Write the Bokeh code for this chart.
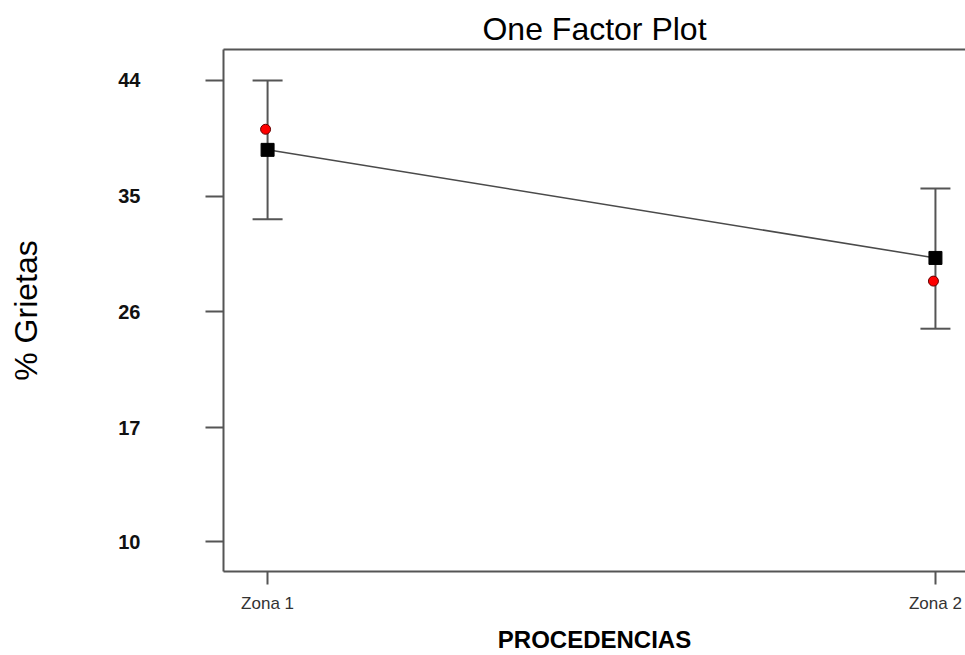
from bokeh.plotting import figure
from bokeh.models import ColumnDataSource, Whisker, TeeHead, FixedTicker, LinearAxis, Range1d
from bokeh.transform import dodge
from bokeh.embed import file_html
from bokeh.resources import INLINE

# ---- data ----
zonas = ["Zona 1", "Zona 2"]
medias = [38.6, 30.2]          # black squares (means)
ic_sup = [44.0, 35.6]          # upper end of error bars
ic_inf = [33.2, 24.7]          # lower end of error bars
observado = [40.2, 28.4]       # red points
y_ticks = [8.15, 17, 26, 35, 44]
y_tick_labels = ["10", "17", "26", "35", "44"]

x_pos = [i + 1 for i in range(len(zonas))]
src = ColumnDataSource(dict(x=x_pos, zona=zonas, media=medias, sup=ic_sup,
                            inf=ic_inf, obs=observado))

AX = "#555555"
FONT = "Liberation Sans"

p = figure(width=965, height=655, output_backend="svg", toolbar_location=None,
           x_range=Range1d(0.934, 2.045), y_range=Range1d(5.83, 46.4),
           min_border_left=223, min_border_right=0, min_border_top=49,
           min_border_bottom=83, title="One Factor Plot")
p.title.align = "center"
p.title.text_font = FONT
p.title.text_font_size = "32px"
p.title.text_font_style = "normal"
p.title.text_color = "black"
p.title.standoff = 5
p.grid.visible = False
p.outline_line_color = None
p.background_fill_color = "white"
p.border_fill_color = "white"

# x axis (bottom)
xa = p.below[0]
xa.ticker = FixedTicker(ticks=x_pos)
xa.major_label_overrides = {xi: z for xi, z in zip(x_pos, zonas)}
xa.axis_line_color = AX
xa.axis_line_width = 2
xa.major_tick_line_color = AX
xa.major_tick_line_width = 2
xa.major_tick_in = 0
xa.major_tick_out = 13
xa.minor_tick_line_color = None
xa.major_label_standoff = 9
xa.major_label_text_font = FONT
xa.major_label_text_font_size = "17px"
xa.major_label_text_color = "#333333"
xa.axis_label = "PROCEDENCIAS"
xa.axis_label_text_font = FONT
xa.axis_label_text_font_size = "24px"
xa.axis_label_text_font_style = "bold"
xa.axis_label_text_color = "black"
xa.axis_label_standoff = 10

# y axis
ya = p.left[0]
ya.ticker = FixedTicker(ticks=y_ticks)
ya.major_label_overrides = {t: l for t, l in zip(y_ticks, y_tick_labels)}
ya.axis_line_color = AX
ya.axis_line_width = 2
ya.major_tick_line_color = AX
ya.major_tick_line_width = 2
ya.major_tick_in = 0
ya.major_tick_out = 18
ya.minor_tick_line_color = None
ya.major_label_standoff = 65
ya.major_label_text_font = FONT
ya.major_label_text_font_size = "20px"
ya.major_label_text_font_style = "bold"
ya.major_label_text_color = "#111111"
ya.axis_label = "% Grietas"
ya.axis_label_text_font = FONT
ya.axis_label_text_font_size = "32px"
ya.axis_label_text_font_style = "normal"
ya.axis_label_text_color = "black"
ya.axis_label_standoff = 71

# top border line (axis without ticks or labels)
top = LinearAxis(ticker=FixedTicker(ticks=[]), axis_line_color=AX, axis_line_width=2,
                 major_tick_out=0, major_tick_in=0, minor_tick_out=0, minor_tick_in=0,
                 major_label_standoff=0, minor_tick_line_color=None,
                 major_tick_line_color=None)
p.add_layout(top, "above")

# error bars
w = Whisker(source=src, base="x", upper="sup", lower="inf",
            line_color=AX, line_width=2,
            upper_head=TeeHead(size=30, line_color=AX, line_width=2),
            lower_head=TeeHead(size=30, line_color=AX, line_width=2))
w.level = "underlay"
p.add_layout(w)

# connecting line of means
p.line("x", "media", source=src, line_color="#4a4a4a", line_width=1.5)
# means (black squares)
p.scatter("x", "media", source=src, marker="square", size=13,
          fill_color="black", line_color="black")
# red points (drawn a hair to the left, as in the reference)
p.scatter(dodge("x", -0.003, range=p.x_range), "obs", source=src, marker="circle",
          size=10, fill_color="red", line_color="#660000", line_width=1)

open("out.html", "w").write(file_html(p, INLINE))
